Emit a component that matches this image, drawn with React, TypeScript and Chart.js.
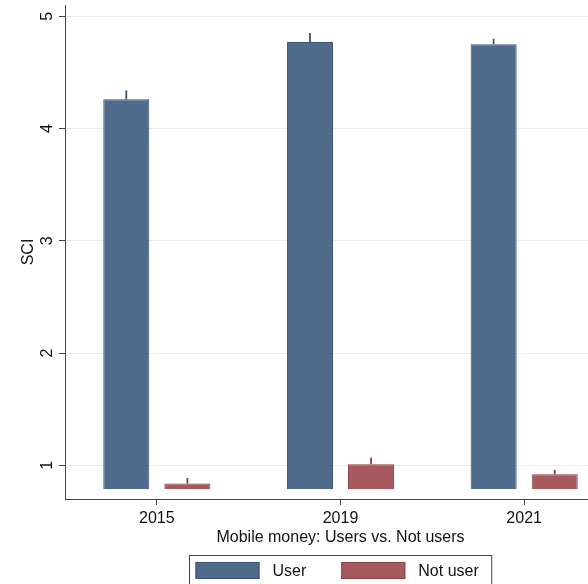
import { useEffect, useRef } from "react";
import { Chart, registerables } from "chart.js";

Chart.register(...registerables);

const years = ["2015", "2019", "2021"];
const seriesLabels = ["User", "Not user"];
const userMean = [4.26, 4.77, 4.75];
const userUpper = [4.34, 4.85, 4.8];
const notUserMean = [0.837, 1.01, 0.92];
const notUserUpper = [0.887, 1.068, 0.96];
const barBase = 0.786;
const yTicks = [1, 2, 3, 4, 5];
const yMin = 0.7;
const yMax = 5.1;
const xTitle = "Mobile money: Users vs. Not users";
const yTitle = "SCI";

const FONT = "'Liberation Sans', Arial, Helvetica, sans-serif";
const fills = ["#4f6b8b", "#a8595d"];
const borders = ["#3a5473", "#8c4145"];
const uppers = [userUpper, notUserUpper];

const errorBarPlugin = {
  id: "errorBars",
  afterDatasetsDraw(chart: any) {
    const ctx = chart.ctx;
    const yScale = chart.scales.y;
    chart.data.datasets.forEach((_ds: any, i: number) => {
      const meta = chart.getDatasetMeta(i);
      meta.data.forEach((el: any, j: number) => {
        const yTop = yScale.getPixelForValue(uppers[i][j]);
        ctx.save();
        ctx.strokeStyle = borders[i];
        ctx.lineWidth = 1.8;
        ctx.beginPath();
        ctx.moveTo(el.x, el.y);
        ctx.lineTo(el.x, yTop);
        ctx.stroke();
        ctx.restore();
      });
    });
  },
};

const legendPlugin = {
  id: "boxLegend",
  afterDraw(chart: any) {
    const ctx = chart.ctx;
    const area = chart.chartArea;
    ctx.save();
    ctx.font = `16px ${FONT}`;
    const padL = 6, sw = 64, gapT = 13, itemGap = 35, padR = 13;
    const tws = chart.data.datasets.map((d: any) => ctx.measureText(d.label).width);
    let total = padL + padR;
    tws.forEach((tw: number, i: number) => {
      total += sw + gapT + tw + (i < tws.length - 1 ? itemGap : 0);
    });
    const cx = (area.left + area.right) / 2;
    const left = Math.round(cx - total / 2) + 0.5;
    const top = 555.5;
    ctx.strokeStyle = "#444";
    ctx.lineWidth = 1;
    ctx.strokeRect(left, top, total, 50);
    let x = left + padL;
    const sy = 562;
    const sh = 17;
    chart.data.datasets.forEach((d: any, i: number) => {
      ctx.fillStyle = fills[i];
      ctx.fillRect(x, sy, sw, sh);
      ctx.strokeStyle = borders[i];
      ctx.strokeRect(x + 0.5, sy + 0.5, sw - 1, sh - 1);
      x += sw + gapT;
      ctx.fillStyle = "#111";
      ctx.textBaseline = "middle";
      ctx.textAlign = "left";
      ctx.fillText(d.label, x, sy + sh / 2 + 1);
      x += tws[i] + itemGap;
    });
    ctx.restore();
  },
};

export default function App() {
  const ref = useRef<HTMLCanvasElement | null>(null);
  useEffect(() => {
    if (!ref.current) return;
    Chart.defaults.font.family = FONT;
    const chart = new Chart(ref.current, {
      type: "bar",
      data: {
        labels: years,
        datasets: [
          {
            label: seriesLabels[0],
            data: userMean,
            base: barBase,
            backgroundColor: fills[0],
            borderColor: borders[0],
            borderWidth: 1,
            categoryPercentage: 0.665,
            barPercentage: 0.754,
          } as any,
          {
            label: seriesLabels[1],
            data: notUserMean,
            base: barBase,
            backgroundColor: fills[1],
            borderColor: borders[1],
            borderWidth: 1,
            categoryPercentage: 0.665,
            barPercentage: 0.754,
          } as any,
        ],
      },
      options: {
        animation: false,
        responsive: false,
        layout: { padding: { top: 5, right: 14, left: 0, bottom: 35 } },
        plugins: { legend: { display: false }, tooltip: { enabled: false } },
        scales: {
          x: {
            offset: true,
            grid: {
              display: true,
              drawOnChartArea: false,
              drawTicks: true,
              tickLength: 6,
              offset: false,
              tickColor: "#444",
            },
            border: { display: true, color: "#444", width: 1 },
            ticks: { color: "#111", font: { size: 16 }, padding: 4, maxRotation: 0 },
            title: {
              display: true,
              text: xTitle,
              color: "#111",
              font: { size: 16 },
              padding: { top: 0, bottom: 2 },
            },
            afterFit: (s: any) => {
              s.height = 50;
              s.paddingLeft = 0;
              s.paddingRight = 0;
            },
          },
          y: {
            min: yMin,
            max: yMax,
            afterBuildTicks: (s: any) => {
              s.ticks = yTicks.map((v) => ({ value: v }));
            },
            grid: { color: "#e6edf1", tickColor: "#444", tickLength: 6, drawTicks: true },
            border: { display: true, color: "#444", width: 1 },
            ticks: {
              minRotation: 90,
              maxRotation: 90,
              crossAlign: "center",
              padding: 7,
              color: "#111",
              font: { size: 16 },
            },
            title: {
              display: true,
              text: yTitle,
              color: "#111",
              font: { size: 16 },
              padding: { top: 19, bottom: 0 },
            },
            afterFit: (s: any) => {
              s.width = 65;
              s.paddingTop = 0;
              s.paddingBottom = 0;
            },
          },
        },
      } as any,
      plugins: [errorBarPlugin, legendPlugin],
    });
    return () => chart.destroy();
  }, []);

  return (
    <div
      style={{
        position: "absolute",
        left: 0,
        top: 0,
        width: 588,
        height: 584,
        overflow: "hidden",
        background: "#fff",
      }}
    >
      <canvas ref={ref} width={630} height={584} style={{ display: "block" }} />
    </div>
  );
}
